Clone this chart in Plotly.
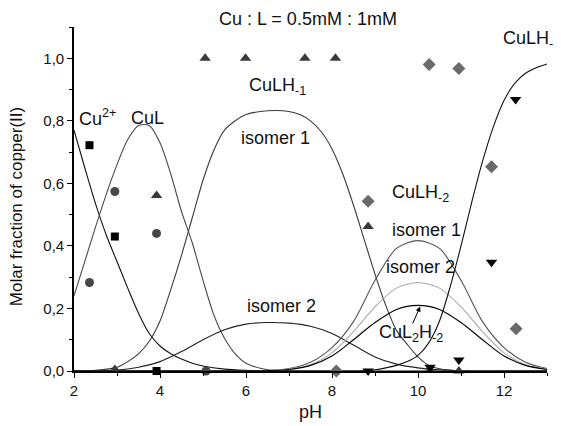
import plotly.graph_objects as go

# ---------------- data ----------------
# Speciation curves: pH grid and molar fraction for each species
cu_ph = [2.0, 2.25, 2.5, 2.75, 3.0, 3.25, 3.5, 3.75, 4.0, 4.25, 4.5, 4.75, 5.0, 5.5, 6.0, 6.5, 7.0, 13.0]
cu_y = [0.77, 0.65, 0.535, 0.435, 0.35, 0.265, 0.185, 0.12, 0.08, 0.055, 0.038, 0.025, 0.016, 0.006, 0.002, 0.0, 0.0, 0.0]

cul_ph = [2.0, 2.25, 2.5, 2.75, 3.0, 3.25, 3.5, 3.75, 4.0, 4.25, 4.5, 4.75, 5.0, 5.25, 5.5, 5.75, 6.0, 6.5, 7.0, 13.0]
cul_y = [0.24, 0.35, 0.46, 0.565, 0.66, 0.74, 0.785, 0.785, 0.73, 0.63, 0.51, 0.41, 0.29, 0.18, 0.105, 0.055, 0.025, 0.004, 0.0, 0.0]

h1a_ph = [2.0, 2.5, 3.0, 3.25, 3.5, 3.75, 4.0, 4.25, 4.5, 4.75, 5.0, 5.25, 5.5, 5.75, 6.0, 6.5, 7.0, 7.25,
          7.5, 7.75, 8.0, 8.25, 8.5, 8.75, 9.0, 9.25, 9.5, 9.75, 10.0, 10.25, 10.5, 11.0, 13.0]
h1a_y = [0.0, 0.002, 0.012, 0.03, 0.055, 0.095, 0.16, 0.26, 0.37, 0.49, 0.61, 0.705, 0.77, 0.80, 0.82, 0.832, 0.83, 0.82,
         0.80, 0.765, 0.71, 0.63, 0.53, 0.42, 0.31, 0.21, 0.13, 0.085, 0.045, 0.018, 0.007, 0.0, 0.0]

h1b_ph = [2.0, 3.0, 3.5, 4.0, 4.5, 5.0, 5.5, 6.0, 6.5, 7.0, 7.5, 8.0, 8.5, 9.0, 9.5, 10.0, 10.5, 11.0, 13.0]
h1b_y = [0.0, 0.003, 0.012, 0.03, 0.062, 0.10, 0.132, 0.15, 0.155, 0.153, 0.143, 0.12, 0.083, 0.045, 0.022, 0.01, 0.004, 0.001, 0.0]

h2a_ph = [2.0, 6.0, 6.5, 7.0, 7.5, 8.0, 8.5, 9.0, 9.5, 10.0, 10.5, 11.0, 11.5, 12.0, 12.5, 13.0]
h2a_y = [0.0, 0.0, 0.002, 0.008, 0.028, 0.075, 0.158, 0.29, 0.392, 0.417, 0.392, 0.29, 0.158, 0.075, 0.028, 0.008]

h2b_ph = [2.0, 6.0, 6.5, 7.0, 7.5, 8.0, 8.5, 9.0, 9.5, 10.0, 10.5, 11.0, 11.5, 12.0, 12.5, 13.0]
h2b_y = [0.0, 0.0, 0.001, 0.006, 0.02, 0.058, 0.126, 0.205, 0.265, 0.283, 0.265, 0.205, 0.126, 0.058, 0.02, 0.006]

l2_ph = [2.0, 6.0, 6.5, 7.0, 7.5, 8.0, 8.5, 9.0, 9.5, 10.0, 10.5, 11.0, 11.5, 12.0, 12.5, 13.0]
l2_y = [0.0, 0.0, 0.001, 0.005, 0.018, 0.048, 0.10, 0.155, 0.197, 0.21, 0.197, 0.155, 0.10, 0.048, 0.018, 0.005]

h3_ph = [2.0, 8.5, 8.75, 9.0, 9.25, 9.5, 9.75, 10.0, 10.25, 10.5, 10.75, 11.0, 11.25, 11.5, 11.75, 12.0, 12.25, 12.5, 12.75, 13.0]
h3_y = [0.0, 0.0, 0.001, 0.004, 0.01, 0.018, 0.03, 0.05, 0.09, 0.16, 0.27, 0.40, 0.54, 0.67, 0.78, 0.865, 0.92, 0.952, 0.97, 0.982]

# Experimental points
sq_ph = [2.36, 2.95, 3.92]
sq_y = [0.722, 0.43, 0.0]
ci_ph = [2.36, 2.95, 3.92, 5.07]
ci_y = [0.283, 0.574, 0.44, 0.0]
tu_ph = [2.95, 3.92, 5.05, 5.99, 7.37, 8.08, 8.84, 10.28, 10.95]
tu_y = [0.005, 0.561, 1.0, 1.0, 1.0, 1.0, 0.462, 0.003, 0.0]
di_ph = [8.1, 8.84, 10.26, 10.95, 11.71, 12.28]
di_y = [0.0, 0.543, 0.98, 0.967, 0.653, 0.135]
td_ph = [8.84, 10.28, 10.95, 11.71, 12.27]
td_y = [0.0, 0.012, 0.035, 0.348, 0.868]

x_ticks = [2, 4, 6, 8, 10, 12]
x_minor = [3, 5, 7, 9, 11, 13]
y_ticks = [0.0, 0.2, 0.4, 0.6, 0.8, 1.0]
y_minor = [0.1, 0.3, 0.5, 0.7, 0.9, 1.1]

FONT = "Liberation Sans, Arial, sans-serif"

fig = go.Figure()

curves = [
    (cu_ph, cu_y, "#111111"),
    (cul_ph, cul_y, "#4a4a4a"),
    (h1a_ph, h1a_y, "#3a3a3a"),
    (h1b_ph, h1b_y, "#222222"),
    (h2a_ph, h2a_y, "#555555"),
    (h2b_ph, h2b_y, "#aaaaaa"),
    (l2_ph, l2_y, "#000000"),
    (h3_ph, h3_y, "#111111"),
]
for xs, ys, col in curves:
    fig.add_trace(go.Scatter(x=xs, y=ys, mode="lines",
                             line=dict(color=col, width=1.1, shape="spline", smoothing=0.8),
                             showlegend=False, hoverinfo="skip"))

markers = [
    (sq_ph, sq_y, "square", "#000000", 8),
    (ci_ph, ci_y, "circle", "#474747", 9),
    (tu_ph, tu_y, "triangle-up", "#3a3a3a", 10),
    (di_ph, di_y, "diamond", "#6a6a6a", 10),
    (td_ph, td_y, "triangle-down", "#000000", 10),
]
for xs, ys, sym, col, sz in markers:
    fig.add_trace(go.Scatter(x=xs, y=ys, mode="markers", cliponaxis=False,
                             marker=dict(symbol=sym, color=col, size=sz, line=dict(width=0)),
                             showlegend=False, hoverinfo="skip"))

labels = [
    ("Cu<sup>2+</sup>", 2.07, 0.81),
    ("CuL", 3.29, 0.81),
    ("CuLH<sub>-1</sub>", 6.02, 0.909),
    ("isomer 1", 5.84, 0.744),
    ("isomer 2", 5.98, 0.208),
    ("CuLH<sub>-2</sub>", 9.35, 0.567),
    ("isomer 1", 9.35, 0.452),
    ("isomer 2", 9.21, 0.332),
    ("CuL<sub>2</sub>H<sub>-2</sub>", 9.04, 0.12),
    ("CuLH<sub>-3</sub>", 11.93, 1.06),
]
for txt, x, y in labels:
    fig.add_annotation(x=x, y=y, xref="x", yref="y", text=txt, showarrow=False,
                       xanchor="left", yanchor="middle",
                       font=dict(family=FONT, size=18, color="#111111"))

# arrow to CuL2H-2 curve
fig.add_annotation(x=10.05, y=0.206, ax=9.86, ay=0.147, xref="x", yref="y", axref="x", ayref="y",
                   text="", showarrow=True, arrowhead=2, arrowsize=1, arrowwidth=1, arrowcolor="#000000",
                   standoff=0, startstandoff=0)

# title and axis titles
fig.add_annotation(x=0.495, y=1.023, xref="paper", yref="paper", text="Cu : L = 0.5mM : 1mM",
                   showarrow=False, xanchor="center", yanchor="middle",
                   font=dict(family=FONT, size=18, color="#111111"))
fig.add_annotation(x=0.501, y=-0.119, xref="paper", yref="paper", text="pH",
                   showarrow=False, xanchor="center", yanchor="middle",
                   font=dict(family=FONT, size=18, color="#111111"))
fig.add_annotation(x=-0.12, y=0.477, xref="paper", yref="paper", text="Molar fraction of copper(II)",
                   showarrow=False, xanchor="center", yanchor="middle", textangle=-90,
                   font=dict(family=FONT, size=17, color="#111111"))

axis_common = dict(showline=True, linecolor="#000000", linewidth=1.6, ticks="outside", ticklen=5,
                   tickwidth=1.2, tickcolor="#000000", showgrid=False, zeroline=False, mirror=False,
                   tickfont=dict(family=FONT, size=15, color="#111111"))

fig.update_xaxes(range=[2, 13], tickmode="array", tickvals=x_ticks,
                 minor=dict(tickvals=x_minor, ticks="outside", ticklen=3, tickwidth=1.2,
                            tickcolor="#000000", showgrid=False),
                 **axis_common)
fig.update_yaxes(range=[0, 1.1], tickmode="array", tickvals=y_ticks, tickformat=".1f",
                 minor=dict(tickvals=y_minor, ticks="outside", ticklen=3, tickwidth=1.2,
                            tickcolor="#000000", showgrid=False),
                 **axis_common)

# The page body adds an 8px offset, so the figure is 8px smaller and margins shifted.
fig.update_layout(width=553, height=418, margin=dict(l=66, r=14, t=19, b=55, pad=0),
                  paper_bgcolor="white", plot_bgcolor="white", showlegend=False,
                  separators=",.", font=dict(family=FONT, size=15, color="#111111"))

fig.write_html("out.html")
